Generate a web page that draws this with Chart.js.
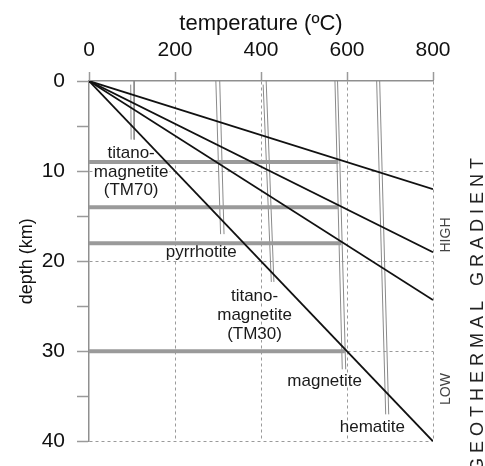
<!DOCTYPE html>
<html>
<head>
<meta charset="utf-8">
<script src="https://cdn.jsdelivr.net/npm/chart.js@4.4.1/dist/chart.umd.min.js"></script>
<style>
  html, body { margin: 0; padding: 0; background: #fff; }
</style>
</head>
<body>
<canvas id="myChart" width="485" height="466"></canvas>
<script>
// Osy
const tempTicks = [0, 200, 400, 600, 800];
const depthTicks = [0, 10, 20, 30, 40];

// Geotermy z počátku: hloubka (km) dosažená při 800 ºC
const geothermDepthAt800 = [12, 19, 24.3, 40];

// Curieovy teploty – dvojité čáry (teplota nahoře / dole, hloubka konce)
const curieNames = ['TM70', 'pyrrhotite', 'TM30', 'magnetite', 'hematite'];
const curieTopA = [97, 295, 405, 572, 669];
const curieTopB = [105, 304, 412, 578, 676];
const curieBotA = [98, 306, 424, 589, 690];
const curieBotB = [105, 314, 430, 597, 697];
const curieStartA = [0.4, 0, 0.4, 0, 0];
const curieEndDepth = [6.5, 17, 22.3, 32, 37];

// Šedé pruhy: hloubka a teplota, kde končí
const barDepth = [9, 14, 18, 30];
const barTemp = [580, 580, 587, 595];

// Popisky minerálů (text, teplota a hloubka středu)
const labelLines = [
  ['titano-', 'magnetite', '(TM70)'],
  ['pyrrhotite'],
  ['titano-', 'magnetite', '(TM30)'],
  ['magnetite'],
  ['hematite']
];
const labelTemp = [98, 261, 385, 548, 659];
const labelDepth = [10.1, 19.0, 26.0, 33.3, 38.4];

const FONT = '"Liberation Sans", Arial, sans-serif';

const datasets = [];
geothermDepthAt800.forEach(d => {
  datasets.push({
    data: [{ x: 0, y: 0 }, { x: 800, y: d }],
    borderColor: '#111', borderWidth: 1.8
  });
});
barDepth.forEach((d, i) => {
  datasets.push({
    data: [{ x: 0, y: d }, { x: barTemp[i], y: d }],
    borderColor: '#9a9a9a', borderWidth: 4
  });
});
curieNames.forEach((n, i) => {
  datasets.push({
    data: [{ x: curieTopA[i], y: curieStartA[i] }, { x: curieBotA[i], y: curieEndDepth[i] }],
    borderColor: '#8a8a8a', borderWidth: 1
  });
  datasets.push({
    data: [{ x: curieTopB[i], y: 0 }, { x: curieBotB[i], y: curieEndDepth[i] }],
    borderColor: '#8a8a8a', borderWidth: 1
  });
});
datasets.forEach(ds => {
  ds.showLine = true;
  ds.pointRadius = 0;
  ds.fill = false;
});

const textPlugin = {
  id: 'textPlugin',
  beforeDatasetsDraw(chart) {
    const { ctx, scales: { x, y } } = chart;
    ctx.save();
    ctx.font = '17px ' + FONT;
    ctx.textAlign = 'center';
    ctx.textBaseline = 'middle';
    labelLines.forEach((lines, i) => {
      const cx = x.getPixelForValue(labelTemp[i]);
      const cy = y.getPixelForValue(labelDepth[i]);
      lines.forEach((t, k) => {
        const ty = cy + (k - (lines.length - 1) / 2) * 18.8;
        const w = ctx.measureText(t).width;
        ctx.fillStyle = '#fff';
        ctx.fillRect(cx - w / 2 - 1, ty - 6, w + 2, 12);
        ctx.fillStyle = '#1a1a1a';
        ctx.fillText(t, cx, ty);
      });
    });
    ctx.restore();
  },
  afterDraw(chart) {
    const ctx = chart.ctx;
    // GEOTHERMAL GRADIENT
    ctx.save();
    ctx.translate(478, 472);
    ctx.rotate(-Math.PI / 2);
    ctx.font = '18px ' + FONT;
    ctx.fillStyle = '#222';
    ctx.textAlign = 'left';
    ctx.textBaseline = 'middle';
    let pos = 0;
    for (const ch of 'GEOTHERMAL GRADIENT') {
      ctx.fillText(ch, pos, 0);
      pos += ctx.measureText(ch).width + 5.0;
    }
    ctx.restore();

    // HIGH / LOW
    [['HIGH', 235], ['LOW', 389]].forEach(([t, py]) => {
      ctx.save();
      ctx.translate(446, py);
      ctx.rotate(-Math.PI / 2);
      ctx.font = '14px ' + FONT;
      ctx.fillStyle = '#444';
      ctx.textAlign = 'center';
      ctx.textBaseline = 'middle';
      ctx.fillText(t, 0, 0);
      ctx.restore();
    });
  }
};

const ctx = document.getElementById('myChart').getContext('2d');
const myChart = new Chart(ctx, {
  type: 'scatter',
  data: { datasets: datasets },
  options: {
    responsive: false,
    animation: false,
    devicePixelRatio: 1,
    layout: { padding: { right: 52, bottom: 14, top: 0, left: 0 } },
    plugins: {
      legend: { display: false },
      tooltip: { enabled: false }
    },
    scales: {
      x: {
        type: 'linear',
        position: 'top',
        min: tempTicks[0],
        max: tempTicks[tempTicks.length - 1],
        afterBuildTicks: scale => {
          scale.ticks = tempTicks.map(v => ({ value: v }));
        },
        afterFit: scale => { scale.height = 81; },
        ticks: {
          color: '#111',
          font: { size: 21, family: FONT },
          padding: 9,
          maxRotation: 0
        },
        grid: {
          color: c => (c.tick && c.tick.value === 0) ? 'rgba(0,0,0,0)' : '#9a9a9a',
          lineWidth: 1,
          tickLength: 9,
          tickColor: '#9a9a9a',
          tickWidth: 1.5
        },
        border: { display: true, color: '#8f8f8f', width: 1.5, dash: [3, 3] },
        title: {
          display: true,
          text: 'temperature (ºC)',
          color: '#111',
          font: { size: 22, family: FONT },
          padding: 11
        }
      },
      y: {
        type: 'linear',
        position: 'left',
        reverse: true,
        min: depthTicks[0],
        max: depthTicks[depthTicks.length - 1],
        afterBuildTicks: scale => {
          const t = [];
          for (let v = depthTicks[0]; v <= depthTicks[depthTicks.length - 1]; v += 5) t.push({ value: v });
          scale.ticks = t;
        },
        afterFit: scale => { scale.width = 89; },
        ticks: {
          color: '#111',
          font: { size: 21, family: FONT },
          padding: 12,
          callback: v => depthTicks.includes(v) ? v : ''
        },
        grid: {
          color: c => (c.tick && depthTicks.includes(c.tick.value) && c.tick.value !== 0) ? '#9a9a9a' : 'rgba(0,0,0,0)',
          lineWidth: 1,
          tickLength: 12,
          tickColor: '#9a9a9a',
          tickWidth: 1.5
        },
        border: { display: true, color: '#8f8f8f', width: 1.5, dash: [3, 3] },
        title: {
          display: true,
          text: 'depth (km)',
          color: '#111',
          font: { size: 18, family: FONT },
          padding: 16
        }
      }
    }
  },
  plugins: [textPlugin]
});
</script>
</body>
</html>
